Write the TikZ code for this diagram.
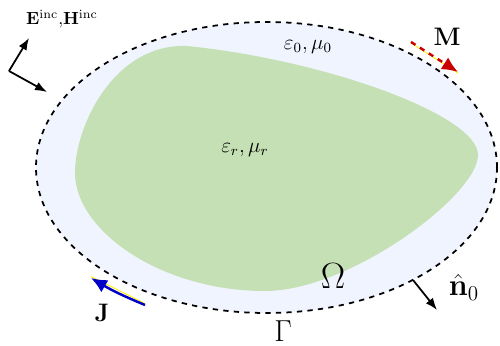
\documentclass[tikz,border=0pt]{standalone}
\usepackage{amsmath,bm}
\usetikzlibrary{arrows.meta}
\definecolor{airblue}{RGB}{240,244,255}
\definecolor{bodygreen}{RGB}{197,224,180}
\definecolor{mred}{RGB}{200,0,0}
\definecolor{jblue}{RGB}{0,0,200}
\begin{document}
\begin{tikzpicture}[scale=1, line width=0.6pt]
  \useasboundingbox (0,0) rectangle (10,6.9);
  \coordinate (O) at (5.33,3.55);
  \coordinate (T) at (3.74,5.98); \coordinate (R) at (9.56,3.8); \coordinate (B) at (5.3,1.08); \coordinate (L) at (1.5,3.44);
  % 바깥 영역 (Gamma)
  \draw[fill=airblue, dashed, line width=1pt] (O) ellipse[x radius=4.61, y radius=2.91];
  % 산란체
  \fill[bodygreen] (T) .. controls (6.5,5.7) and (9.56,4.6) .. (R)
    .. controls (9.56,3.0) and (7.0,1.08) .. (B)
    .. controls (3.2,1.08) and (1.5,2.3) .. (L)
    .. controls (1.5,4.4) and (2.3,6.04) .. (T) -- cycle;
  % 입사파
  \coordinate (K) at (0.18,5.48);
  \draw[-{Latex[length=2.4mm,width=1.8mm]}, line width=1pt] (K) -- (0.58,6.14);
  \draw[-{Latex[length=2.4mm,width=1.8mm]}, line width=1pt] (K) -- (0.94,5.06);
  \node[font=\normalsize] (inc) at (1.24,6.52) {$\mathbf{E}^{\mathrm{inc}},\!\mathbf{H}^{\mathrm{inc}}$};
  % M (자기 전류)
  \coordinate (M1) at (8.22,6.06); \coordinate (M2) at (9.16,5.46);
  \draw[yellow, line width=0.5pt] ([yshift=-0.6pt]M1) -- ([yshift=-0.6pt]M2);
  \draw[mred, dashed, line width=1.4pt, -{Latex[length=3.2mm,width=2.8mm]}] (M1) -- (M2);
  \node[font=\Large] (Mlab) at (8.94,6.16) {$\mathbf{M}$};
  % J (전기 전류)
  \coordinate (J1) at (2.9,0.8); \coordinate (J2) at (1.82,1.34);
  \draw[yellow, line width=0.5pt] ([yshift=0.8pt]J1) -- ([yshift=0.8pt]J2);
  \draw[jblue, line width=1.4pt, -{Latex[length=3.2mm,width=2.8mm]}] (J1) to[bend left=4] (J2);
  \node[font=\Large] (Jlab) at (2.04,0.64) {$\mathbf{J}$};
  % 법선 벡터
  \coordinate (N1) at (8.26,1.3); \coordinate (N2) at (8.74,0.7);
  \draw[-{Latex[length=2.4mm,width=1.8mm]}, line width=1pt] (N1) -- (N2);
  \node[font=\LARGE] (nlab) at (9.28,1.16) {$\hat{\mathbf{n}}_0$};
  % 영역 이름
  \node[font=\large] (air) at (6.16,5.96) {$\varepsilon_0,\mu_0$};
  \node[font=\large] (body) at (4.9,3.9) {$\varepsilon_r,\mu_r$};
  \node[font=\huge] (Om) at (6.66,1.38) {$\Omega$};
  \node[font=\LARGE] (Gam) at (5.66,0.28) {$\Gamma$};
\end{tikzpicture}
\end{document}
